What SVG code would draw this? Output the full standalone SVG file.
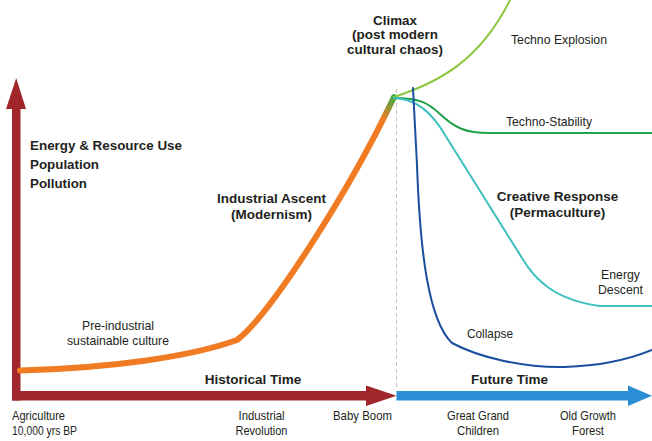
<svg xmlns="http://www.w3.org/2000/svg" width="652" height="441" viewBox="0 0 652 441">
<defs>
<style>
text{font-family:"Liberation Sans",Arial,sans-serif;fill:#231f20}
.b{font-weight:bold;font-size:13.5px}
.c{font-weight:bold;font-size:12.5px}
.r{font-size:13px}
.m{text-anchor:middle}
.curve{fill:none;stroke-linecap:round;stroke-linejoin:round}
</style>
<linearGradient id="og" gradientUnits="userSpaceOnUse" x1="381" y1="117" x2="394" y2="97">
<stop offset="0" stop-color="#f07b23"/>
<stop offset="1" stop-color="#3fae49"/>
</linearGradient>
</defs>
<rect width="652" height="441" fill="#fff"/>

<g id="axes">
<line x1="396.5" y1="89" x2="396.5" y2="390" stroke="#c4c4c4" stroke-width="1" stroke-dasharray="4 3"/>
<rect x="12" y="105" width="8.5" height="295.5" fill="#a0262c"/>
<polygon points="16.2,78 26,109 6,109" fill="#a0262c"/>
<rect x="12" y="391" width="356" height="9.5" fill="#a0262c"/>
<polygon points="366,385.5 396.5,395.8 366,406" fill="#a0262c"/>
<rect x="396.5" y="391" width="234" height="9.5" fill="#2a8ed4"/>
<polygon points="628,385.5 652,395.8 628,406" fill="#2a8ed4"/>
</g>

<g id="connectors">
<path id="industrial-curve" class="curve" d="M20,370.5 C110,368 190,357 237,340 C270,315 350,190 394,97" stroke="url(#og)" stroke-width="6"/>
<path id="techno-explosion" class="curve" d="M394,97 C440,82 480,60 510,0" stroke="#8cc63f" stroke-width="2"/>
<path id="techno-stability" class="curve" d="M394,98 C420,98 428,103 440,114 C455,128 465,133 490,133 L652,133" stroke="#1fa34a" stroke-width="2"/>
<path id="energy-descent" class="curve" d="M394,98 C410,99 425,105 440,127 L522,258 C535,280 555,300 600,306 L652,306" stroke="#3dbfbe" stroke-width="2"/>
<path id="collapse" class="curve" d="M413,88 L417,165 C420,250 428,320 452,343 C480,358 525,368 565,367 C600,366 630,359 652,350" stroke="#1a4f9e" stroke-width="2"/>
</g>

<g id="y-axis-label">
<text class="b" x="30" y="150" textLength="152" lengthAdjust="spacingAndGlyphs">Energy &amp; Resource Use</text>
<text class="b" x="30" y="169" textLength="69" lengthAdjust="spacingAndGlyphs">Population</text>
<text class="b" x="30" y="188" textLength="57" lengthAdjust="spacingAndGlyphs">Pollution</text>
</g>

<g id="climax">
<text class="c m" x="395" y="24.5" textLength="44" lengthAdjust="spacingAndGlyphs">Climax</text>
<text class="c m" x="395" y="39" textLength="86" lengthAdjust="spacingAndGlyphs">(post modern</text>
<text class="c m" x="395" y="53.5" textLength="96" lengthAdjust="spacingAndGlyphs">cultural chaos)</text>
</g>

<g id="industrial-ascent">
<text class="b m" x="271.5" y="203">Industrial Ascent</text>
<text class="b m" x="271.5" y="219">(Modernism)</text>
</g>

<g id="creative-response">
<text class="b m" x="557.5" y="201">Creative Response</text>
<text class="b m" x="557.5" y="217">(Permaculture)</text>
</g>

<g id="pre-industrial">
<text class="r m" x="118" y="330" textLength="72" lengthAdjust="spacingAndGlyphs">Pre-industrial</text>
<text class="r m" x="118" y="345" textLength="102" lengthAdjust="spacingAndGlyphs">sustainable culture</text>
</g>

<g id="scenario-labels">
<text class="r" x="511" y="44" textLength="96" lengthAdjust="spacingAndGlyphs">Techno Explosion</text>
<text class="r" x="506" y="126" textLength="86" lengthAdjust="spacingAndGlyphs">Techno-Stability</text>
<text class="r m" x="620.5" y="279" textLength="39" lengthAdjust="spacingAndGlyphs">Energy</text>
<text class="r m" x="620.5" y="294" textLength="45" lengthAdjust="spacingAndGlyphs">Descent</text>
<text class="r" x="467" y="338" textLength="46" lengthAdjust="spacingAndGlyphs">Collapse</text>
</g>

<g id="time-labels">
<text class="b m" x="253" y="384">Historical Time</text>
<text class="b m" x="509.5" y="384">Future Time</text>
</g>

<g id="timeline-labels">
<text class="r" x="12" y="420" textLength="53" lengthAdjust="spacingAndGlyphs">Agriculture</text>
<text class="r" x="12" y="435" textLength="65" lengthAdjust="spacingAndGlyphs">10,000 yrs BP</text>
<text class="r m" x="261.5" y="420" textLength="46" lengthAdjust="spacingAndGlyphs">Industrial</text>
<text class="r m" x="261.5" y="435" textLength="52" lengthAdjust="spacingAndGlyphs">Revolution</text>
<text class="r m" x="362.5" y="420" textLength="59" lengthAdjust="spacingAndGlyphs">Baby Boom</text>
<text class="r m" x="478" y="420" textLength="62" lengthAdjust="spacingAndGlyphs">Great Grand</text>
<text class="r m" x="478" y="435" textLength="42" lengthAdjust="spacingAndGlyphs">Children</text>
<text class="r m" x="588" y="420" textLength="56" lengthAdjust="spacingAndGlyphs">Old Growth</text>
<text class="r m" x="588" y="435" textLength="32" lengthAdjust="spacingAndGlyphs">Forest</text>
</g>
</svg>
